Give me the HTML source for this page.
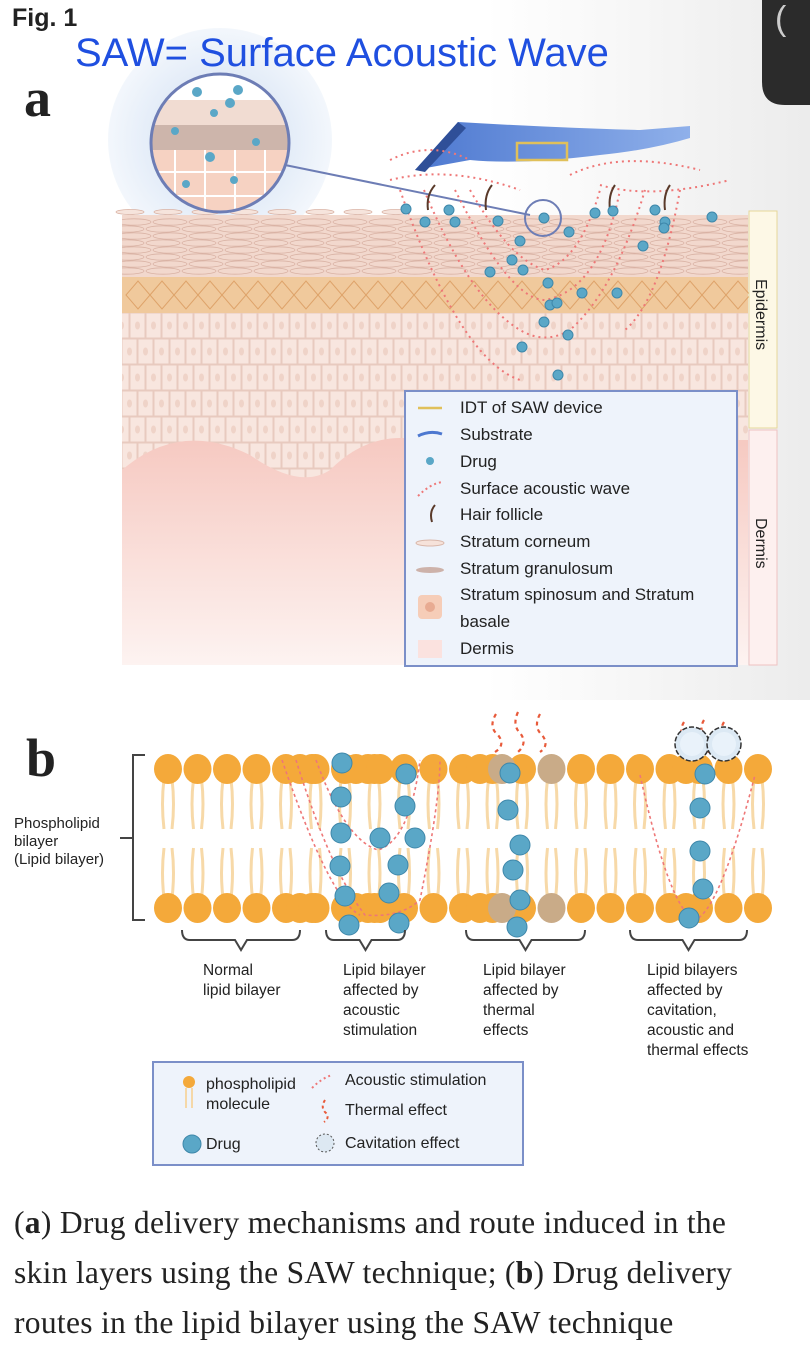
<!DOCTYPE html>
<html><head><meta charset="utf-8"><style>
html,body{margin:0;padding:0;background:#fff;width:810px;height:1351px;overflow:hidden}
svg{display:block}
.s{font-family:"Liberation Sans",sans-serif}
.cap{position:absolute;left:14px;font-family:"Liberation Serif",serif;font-size:31.5px;letter-spacing:0.3px;color:#222;line-height:50px;top:1198px;width:752px}
</style></head><body>
<svg id="g" width="810" height="1351" viewBox="0 0 810 1351" xmlns="http://www.w3.org/2000/svg">
<defs>
<linearGradient id="bgR" x1="0" x2="1"><stop offset="0.6" stop-color="#fff"/><stop offset="1" stop-color="#ececec"/></linearGradient>
<linearGradient id="derm" x1="0" y1="0" x2="0" y2="1"><stop offset="0" stop-color="#f6c9c1"/><stop offset="1" stop-color="#fdf3f1"/></linearGradient>
<linearGradient id="sub" x1="0" x2="1"><stop offset="0" stop-color="#4d78d0"/><stop offset="1" stop-color="#8fb0ea"/></linearGradient>
<radialGradient id="halo"><stop offset="0.6" stop-color="#e3ecf8"/><stop offset="1" stop-color="#f3f7fc"/></radialGradient>
<clipPath id="mag"><circle cx="220" cy="143" r="68"/></clipPath>
<clipPath id="skin"><rect x="122" y="215" width="626" height="450"/></clipPath>
</defs>
<rect x="0" y="0" width="810" height="700" fill="url(#bgR)"/>
<circle cx="220" cy="140" r="112" fill="url(#halo)"/>
<path d="M762 0 H810 V105 H785 Q762 105 762 82 Z" fill="#2b2b2b"/>
<text x="775" y="30" font-size="34" fill="#ccc" class="s">(</text>
<text x="12" y="26" font-size="25" font-weight="bold" fill="#222" class="s">Fig. 1</text>
<text x="75" y="66" font-size="40" fill="#1f4fe0" class="s">SAW= Surface Acoustic Wave</text>
<text x="24" y="116" font-size="54" font-weight="bold" fill="#222" font-family="Liberation Serif,serif">a</text>
<rect x="122" y="215" width="626" height="450" fill="#f8e6df"/>
<g id="spin" clip-path="url(#skin)"></g>
<path d="M122 470 Q180 420 250 455 Q300 490 330 470 Q370 430 420 440 Q470 450 520 440 L748 440 V665 H122 Z" fill="url(#derm)"/>
<rect x="122" y="215" width="626" height="62" fill="#f2d8cd"/>
<g id="corn" clip-path="url(#skin)"></g>
<rect x="122" y="277" width="626" height="36" fill="#f0c99c"/>
<g id="gran"></g>
<g id="top"></g>
<g clip-path="url(#mag)"><rect x="150" y="70" width="140" height="150" fill="#fff"/>
<rect x="150" y="100" width="140" height="30" fill="#f1dcd2"/><rect x="150" y="125" width="140" height="25" fill="#cdb5ab"/><rect x="150" y="150" width="140" height="70" fill="#f6d2c2"/>
<g stroke="#fff" stroke-width="2"><line x1="150" y1="172" x2="290" y2="172"/><line x1="150" y1="196" x2="290" y2="196"/><line x1="175" y1="150" x2="175" y2="220"/><line x1="205" y1="150" x2="205" y2="220"/><line x1="235" y1="150" x2="235" y2="220"/><line x1="265" y1="150" x2="265" y2="220"/></g>
<g fill="#5aa7c7"><circle cx="197" cy="92" r="5"/><circle cx="238" cy="90" r="5"/><circle cx="230" cy="103" r="5"/><circle cx="214" cy="113" r="4"/><circle cx="256" cy="142" r="4"/><circle cx="210" cy="157" r="5"/><circle cx="234" cy="180" r="4"/><circle cx="186" cy="184" r="4"/><circle cx="175" cy="131" r="4"/></g></g>
<circle cx="220" cy="143" r="69" fill="none" stroke="#6d7db5" stroke-width="3"/>
<line x1="285" y1="165" x2="530" y2="215" stroke="#6d7db5" stroke-width="2"/>
<circle cx="543" cy="218" r="18" fill="none" stroke="#6d7db5" stroke-width="2"/>
<path d="M415 170 L458 122 Q560 128 640 130 L690 126 V138 Q650 150 600 155 Q520 165 470 160 Z" fill="url(#sub)"/>
<path d="M415 170 L458 122 L466 128 L425 172 Z" fill="#2f4f98"/>
<rect x="517" y="143" width="50" height="17" fill="none" stroke="#e0c05a" stroke-width="2.5"/>
<g fill="none" stroke="#e77" stroke-width="2" stroke-dasharray="2 4">
<path d="M390 160 Q430 140 470 160"/><path d="M570 175 Q620 150 700 170"/><path d="M390 180 Q450 165 520 190"/><path d="M600 185 Q650 200 730 180"/>
<path d="M424 190 Q470 300 520 330 Q545 345 570 330 Q615 290 645 190"/>
<path d="M455 190 Q510 300 545 300 Q600 290 620 190"/>
<path d="M400 190 Q460 360 520 380"/><path d="M680 190 Q660 300 625 330"/>
<path d="M470 190 Q510 260 545 270 Q580 260 600 190"/>
</g>
<g stroke="#5a3a2a" stroke-width="2" fill="none"><path d="M428 210 Q426 195 435 185"/><path d="M486 210 Q484 195 492 185"/><path d="M610 210 Q608 195 615 185"/><path d="M665 210 Q663 195 670 185"/></g>
<g id="drugs" fill="#5aa7c7" stroke="#3e87aa" stroke-width="1"></g>
<rect x="749" y="211" width="28" height="217" fill="#fdf8e6" stroke="#e6d79a"/>
<rect x="749" y="430" width="28" height="235" fill="#fdf0ef" stroke="#efc2c2"/>
<text transform="translate(756,279) rotate(90)" font-size="16" fill="#222" class="s">Epidermis</text>
<text transform="translate(756,518) rotate(90)" font-size="16" fill="#222" class="s">Dermis</text>
<rect x="405" y="391" width="332" height="275" fill="#eef3fb" stroke="#7b8fc8" stroke-width="2"/>
<g class="s" font-size="17" fill="#222">
<text x="460" y="413">IDT of SAW device</text><text x="460" y="440">Substrate</text><text x="460" y="467">Drug</text><text x="460" y="494">Surface acoustic wave</text><text x="460" y="520">Hair follicle</text><text x="460" y="547">Stratum corneum</text><text x="460" y="574">Stratum granulosum</text><text x="460" y="600">Stratum spinosum and Stratum</text><text x="460" y="627">basale</text><text x="460" y="654">Dermis</text></g>
<line x1="418" y1="408" x2="442" y2="408" stroke="#e0c05a" stroke-width="2.5"/>
<path d="M418 436 Q430 430 442 434" stroke="#4d78d0" stroke-width="3" fill="none"/>
<circle cx="430" cy="461" r="4" fill="#5aa7c7"/>
<path d="M418 496 Q430 484 442 482" stroke="#e77" stroke-width="2" stroke-dasharray="2 3" fill="none"/>
<path d="M432 522 Q429 512 435 505" stroke="#5a3a2a" stroke-width="2" fill="none"/>
<ellipse cx="430" cy="543" rx="14" ry="3" fill="#f6e2da" stroke="#d9b7aa"/>
<ellipse cx="430" cy="570" rx="14" ry="3" fill="#cdb2aa"/>
<rect x="418" y="595" width="24" height="24" rx="4" fill="#f6cdb8"/><circle cx="430" cy="607" r="5" fill="#e8ab92"/>
<rect x="418" y="640" width="24" height="18" fill="#fbe2df"/>
<text x="26" y="776" font-size="54" font-weight="bold" fill="#222" font-family="Liberation Serif,serif">b</text>
<path d="M145 755 H133 V920 H145 M120 838 H133" stroke="#444" stroke-width="2" fill="none"/>
<g class="s" font-size="15" fill="#222"><text x="14" y="828">Phospholipid</text><text x="14" y="846">bilayer</text><text x="14" y="864">(Lipid bilayer)</text></g>
<g id="lip"></g>
<g fill="none" stroke="#e77" stroke-width="1.6" stroke-dasharray="3 3">
<path d="M282 760 Q330 900 360 915"/><path d="M296 760 Q330 870 365 915 Q400 918 420 900 Q440 800 440 760"/>
<path d="M316 760 Q345 840 378 850 Q410 840 420 760"/>
<path d="M640 775 Q670 910 695 920 Q720 910 755 775"/></g>
<g fill="none" stroke="#e85a3a" stroke-width="2.2" stroke-dasharray="4 4">
<path d="M496 714 Q488 727 498 735 Q506 745 495 752"/><path d="M518 712 Q512 725 520 733 Q528 743 518 752"/><path d="M540 714 Q533 727 542 735 Q550 745 540 752"/>
<path d="M684 722 Q678 732 686 740 Q694 750 686 758"/><path d="M704 720 Q698 730 706 738 Q714 748 706 756"/><path d="M724 722 Q718 732 726 740"/></g>
<g id="cav"></g>
<g id="bdr" fill="#5aa7c7" stroke="#3e87aa" stroke-width="1"></g>
<g stroke="#444" stroke-width="2" fill="none" id="br"></g>
<g class="s" font-size="15.5" fill="#222">
<text x="203" y="975">Normal</text><text x="203" y="995">lipid bilayer</text>
<text x="343" y="975">Lipid bilayer</text><text x="343" y="995">affected by</text><text x="343" y="1015">acoustic</text><text x="343" y="1035">stimulation</text>
<text x="483" y="975">Lipid bilayer</text><text x="483" y="995">affected by</text><text x="483" y="1015">thermal</text><text x="483" y="1035">effects</text>
<text x="647" y="975">Lipid bilayers</text><text x="647" y="995">affected by</text><text x="647" y="1015">cavitation,</text><text x="647" y="1035">acoustic and</text><text x="647" y="1055">thermal effects</text></g>
<rect x="153" y="1062" width="370" height="103" fill="#eef3fb" stroke="#7b8fc8" stroke-width="2"/>
<circle cx="189" cy="1082" r="6" fill="#f4a93a"/><path d="M186 1088 V1108 M192 1088 V1108" stroke="#f5d8a8" stroke-width="2"/>
<circle cx="192" cy="1144" r="9" fill="#5aa7c7" stroke="#3e87aa"/>
<path d="M312 1088 Q322 1078 332 1075" stroke="#e77" stroke-width="2" stroke-dasharray="2 3" fill="none"/>
<path d="M325 1100 Q320 1108 326 1113 Q330 1118 324 1122" stroke="#e85a3a" stroke-width="2" stroke-dasharray="3 3" fill="none"/>
<circle cx="325" cy="1143" r="9" fill="#dde8f2" stroke="#555" stroke-dasharray="2 2"/>
<g class="s" font-size="16" fill="#222"><text x="206" y="1089">phospholipid</text><text x="206" y="1109">molecule</text><text x="206" y="1149">Drug</text>
<text x="345" y="1085">Acoustic stimulation</text><text x="345" y="1115">Thermal effect</text><text x="345" y="1148">Cavitation effect</text></g>
</svg>
<div class="cap">(<b>a</b>) Drug delivery mechanisms and route induced in the skin layers using the SAW technique; (<b>b</b>) Drug delivery routes in the lipid bilayer using the SAW technique</div>
<script>
var N="http://www.w3.org/2000/svg";
function el(p,t,a){var e=document.createElementNS(N,t);for(var k in a)e.setAttribute(k,a[k]);document.getElementById(p).appendChild(e);return e;}
for(var y=313;y<665;y+=26){for(var x=114+((y/26|0)%2)*8;x<748;x+=16){el('spin','rect',{x:x,y:y,width:15,height:25,fill:'none',stroke:'#e8cabf','stroke-width':1});el('spin','ellipse',{cx:x+7.5,cy:y+12.5,rx:2.5,ry:4,fill:'#efd3c8'});}}
for(var y=222;y<277;y+=7){for(var x=122+(y%14);x<760;x+=36){el('corn','ellipse',{cx:x,cy:y,rx:17,ry:3.2,fill:'none',stroke:'#d9b2a4','stroke-width':0.8});}}
for(var x=130;x<420;x+=38){el('top','ellipse',{cx:x,cy:212,rx:14,ry:2.5,fill:'#f6e4dc',stroke:'#d9b2a4','stroke-width':0.8});}
for(var x=126;x<740;x+=24){el('gran','path',{d:'M'+x+' 295 L'+(x+12)+' 281 L'+(x+24)+' 295 L'+(x+12)+' 309 Z',fill:'none',stroke:'#dea36a','stroke-width':1});}
var d=[[406,209],[425,222],[449,210],[455,222],[498,221],[544,218],[569,232],[520,241],[595,213],[613,211],[655,210],[665,222],[712,217],[664,228],[490,272],[512,260],[523,270],[548,283],[550,305],[582,293],[557,303],[617,293],[544,322],[522,347],[568,335],[558,375],[643,246]];
d.forEach(function(p){el('drugs','circle',{cx:p[0],cy:p[1],r:5});});
for(var x=168;x<760;x+=29.5){el('lip','path',{d:'M'+(x-4)+' 779 Q'+(x-7)+' 804 '+(x-4)+' 829 M'+(x+4)+' 779 Q'+(x+7)+' 804 '+(x+4)+' 829',stroke:'#f7d9a8','stroke-width':3,fill:'none'});el('lip','path',{d:'M'+(x-4)+' 898 Q'+(x-7)+' 873 '+(x-4)+' 848 M'+(x+4)+' 898 Q'+(x+7)+' 873 '+(x+4)+' 848',stroke:'#f7d9a8','stroke-width':3,fill:'none'});}
var xs=[];for(var x=168;x<760;x+=29.5)xs.push(x);
xs.push(300,312,356,368,380,480,502,686);
xs.forEach(function(x){var c=(x>495&&x<560&&Math.abs(x-522)>10)?'#c9ab88':'#f4a93a';el('lip','ellipse',{cx:x,cy:769,rx:14,ry:15,fill:c});el('lip','ellipse',{cx:x,cy:908,rx:14,ry:15,fill:c});});
[[692,744],[724,744]].forEach(function(p){el('cav','circle',{cx:p[0],cy:p[1],r:17,fill:'#dce9f4',stroke:'#333','stroke-width':1.5,'stroke-dasharray':'5 2'});el('cav','circle',{cx:p[0],cy:p[1],r:12,fill:'#e9f2fa'});});
var b=[[342,763],[406,774],[341,797],[405,806],[341,833],[380,838],[415,838],[340,866],[398,865],[345,896],[389,893],[349,925],[399,923],[510,773],[508,810],[520,845],[513,870],[520,900],[517,927],[705,774],[700,808],[700,851],[703,889],[689,918]];
b.forEach(function(p){el('bdr','circle',{cx:p[0],cy:p[1],r:10});});
[[182,300],[326,405],[466,585],[630,747]].forEach(function(r){var m=(r[0]+r[1])/2;el('br','path',{d:'M'+r[0]+' 930 Q'+r[0]+' 940 '+(r[0]+8)+' 940 H'+(m-6)+' L'+m+' 950 L'+(m+6)+' 940 H'+(r[1]-8)+' Q'+r[1]+' 940 '+r[1]+' 930'});});
</script>
</body></html>
